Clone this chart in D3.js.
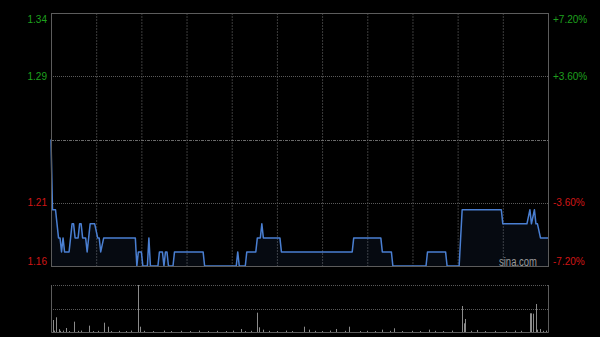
<!DOCTYPE html>
<html>
<head>
<meta charset="utf-8">
<script src="https://cdn.jsdelivr.net/npm/d3@7/dist/d3.min.js"></script>
<style>
  html, body { margin: 0; padding: 0; background: #000; }
  svg { display: block; font-family: "Liberation Sans", Arial, sans-serif; }
</style>
</head>
<body>
<div id="chart"></div>
<script>
// prev close and the label levels
var prevClose = 1.25;
var pctTicks = [7.2, 3.6, -3.6, -7.2];
var priceLabels = ["1.34", "1.29", "1.21", "1.16"];
var pctLabels = ["+7.20%", "+3.60%", "-3.60%", "-7.20%"];

// minute index (0..330) and price at each turning point of the line
var times = [0, 1, 3, 5, 6, 7, 8, 9, 12, 14, 15, 16, 18, 19, 20, 21, 23, 24, 26, 29,
  31, 32, 33, 35, 56, 57, 58, 60, 61, 64, 65, 66, 71, 72, 74, 75, 76, 77, 78, 81,
  82, 101, 102, 123, 124, 125, 129, 130, 136, 137, 139, 140, 141, 152, 153, 200, 201, 219, 220, 226,
  227, 249, 250, 262, 263, 271, 273, 299, 300, 316, 318, 319, 321, 322, 323, 325, 330];
var prices = [1.25, 1.20, 1.20, 1.18, 1.18, 1.17, 1.18, 1.17, 1.17, 1.19, 1.19, 1.18, 1.18, 1.19, 1.19, 1.18, 1.18, 1.17, 1.19, 1.19,
  1.18, 1.18, 1.17, 1.18, 1.18, 1.16, 1.17, 1.17, 1.16, 1.16, 1.18, 1.16, 1.16, 1.17, 1.17, 1.16, 1.17, 1.17, 1.16, 1.16,
  1.17, 1.17, 1.16, 1.16, 1.17, 1.16, 1.16, 1.17, 1.17, 1.18, 1.18, 1.19, 1.18, 1.18, 1.17, 1.17, 1.18, 1.18, 1.17, 1.17,
  1.16, 1.16, 1.17, 1.17, 1.16, 1.16, 1.20, 1.20, 1.19, 1.19, 1.20, 1.19, 1.20, 1.19, 1.19, 1.18, 1.18];

// volume per minute (only minutes with trades)
var volTimes = [1, 2, 3, 5, 6, 8, 10, 12, 15, 18, 20, 25, 28, 31, 35, 38, 40, 45, 50, 53,
  58, 59, 62, 68, 75, 80, 86, 92, 98, 104, 110, 116, 121, 126, 129, 133, 137, 138, 141, 145,
  150, 156, 160, 168, 171, 175, 180, 185, 189, 195, 198, 205, 210, 215, 220, 225, 228, 233, 240, 245,
  251, 255, 260, 266, 273, 274, 275, 279, 283, 288, 295, 302, 308, 312, 318, 319, 320, 322, 323, 325,
  327, 329];
var volValues = [255, 30, 313, 60, 25, 30, 85, 20, 220, 25, 30, 135, 20, 25, 198, 113, 20, 25, 20, 30,
  1000, 113, 25, 20, 30, 20, 25, 20, 30, 20, 25, 20, 30, 64, 20, 25, 411, 100, 50, 25,
  20, 30, 20, 113, 50, 25, 20, 30, 64, 25, 113, 20, 25, 20, 50, 25, 79, 20, 25, 20,
  50, 25, 20, 30, 553, 185, 277, 25, 43, 20, 25, 20, 30, 25, 398, 398, 390, 596, 50, 64,
  25, 30];

var W = 600, H = 337;
var L = 51, R = 548, T = 13, B = 266;
var VT = 285, VB = 332;

var svg = d3.select("#chart").append("svg")
  .attr("width", W).attr("height", H);
svg.append("rect").attr("width", W).attr("height", H).attr("fill", "#000");

var x = d3.scaleLinear().domain([0, 330]).range([L, R]);
var yPct = d3.scaleLinear().domain([-7.2, 7.2]).range([B, T]);
var y = d3.scaleLinear().domain([prevClose * 0.928, prevClose * 1.072]).range([B, T]);
var yVol = d3.scaleLinear().domain([0, d3.max(volValues)]).range([VB, VT]);

// vertical grid (every half hour)
var halfHours = d3.range(30, 330, 30);
svg.append("g").selectAll("line").data(halfHours).enter().append("line")
  .attr("x1", function(d) { return x(d) + 0.5; })
  .attr("x2", function(d) { return x(d) + 0.5; })
  .attr("y1", T).attr("y2", B)
  .attr("stroke", "#3c3c3c").attr("stroke-dasharray", "2,1");

// horizontal grid
svg.append("g").selectAll("line").data([3.6, -3.6]).enter().append("line")
  .attr("x1", L).attr("x2", R)
  .attr("y1", function(d) { return Math.round(yPct(d)) + 0.5; })
  .attr("y2", function(d) { return Math.round(yPct(d)) + 0.5; })
  .attr("stroke", "#5a5a5a").attr("stroke-dasharray", "1,1");

// prev close line
svg.append("line")
  .attr("x1", L).attr("x2", R)
  .attr("y1", Math.round(yPct(0)) + 0.5).attr("y2", Math.round(yPct(0)) + 0.5)
  .attr("stroke", "#6a6a6a").attr("stroke-dasharray", "3,1,1,1");

// price line + area
var pts = times.map(function(t, i) { return [t, prices[i]]; });

svg.append("path")
  .datum(pts)
  .attr("fill", "rgba(70,110,190,0.09)")
  .attr("d", d3.area()
    .x(function(d) { return x(d[0]); })
    .y0(B)
    .y1(function(d) { return y(d[1]); }));

svg.append("path")
  .datum(pts)
  .attr("fill", "none")
  .attr("stroke", "#4a7fd2")
  .attr("stroke-width", 1.5)
  .attr("stroke-linejoin", "round")
  .attr("d", d3.line()
    .x(function(d) { return x(d[0]); })
    .y(function(d) { return y(d[1]); }));

// frame
svg.append("rect")
  .attr("x", L + 0.5).attr("y", T + 0.5)
  .attr("width", R - L).attr("height", B - T)
  .attr("fill", "none").attr("stroke", "#5c5c5c");

// labels
function labelY(i) {
  var v = yPct(pctTicks[i]);
  if (i === 0) return v + 6;
  if (i === pctTicks.length - 1) return v - 5;
  return v;
}
function labelColor(i) { return pctTicks[i] > 0 ? "#1ea01e" : "#d01616"; }

svg.append("g").selectAll("text").data(priceLabels).enter().append("text")
  .attr("x", L - 4)
  .attr("y", function(d, i) { return labelY(i); })
  .attr("dy", "0.35em")
  .attr("text-anchor", "end")
  .attr("font-size", 10)
  .attr("fill", function(d, i) { return labelColor(i); })
  .text(function(d) { return d; });

svg.append("g").selectAll("text").data(pctLabels).enter().append("text")
  .attr("x", R + 5)
  .attr("y", function(d, i) { return labelY(i); })
  .attr("dy", "0.35em")
  .attr("text-anchor", "start")
  .attr("font-size", 10)
  .attr("fill", function(d, i) { return labelColor(i); })
  .text(function(d) { return d; });

// watermark
svg.append("text")
  .attr("x", 499).attr("y", 266)
  .attr("font-size", 12)
  .attr("textLength", 38)
  .attr("lengthAdjust", "spacingAndGlyphs")
  .attr("fill", "#9a9a9a")
  .text("sina.com");

// volume panel
svg.append("g").selectAll("line").data([VT, (VT + VB) / 2]).enter().append("line")
  .attr("x1", L).attr("x2", R)
  .attr("y1", function(d) { return Math.round(d) + 0.5; })
  .attr("y2", function(d) { return Math.round(d) + 0.5; })
  .attr("stroke", "#5a5a5a").attr("stroke-dasharray", "1,1");

svg.append("g").selectAll("line").data(volTimes).enter().append("line")
  .attr("x1", function(d) { return Math.round(x(d)) + 0.5; })
  .attr("x2", function(d) { return Math.round(x(d)) + 0.5; })
  .attr("y1", VB)
  .attr("y2", function(d, i) { return yVol(volValues[i]); })
  .attr("stroke", "#8a8a8a");

svg.append("path")
  .attr("d", "M" + (L + 0.5) + "," + VT + "V" + (VB + 0.5) + "H" + (R + 0.5) + "V" + VT)
  .attr("fill", "none").attr("stroke", "#5c5c5c");
</script>
</body>
</html>
